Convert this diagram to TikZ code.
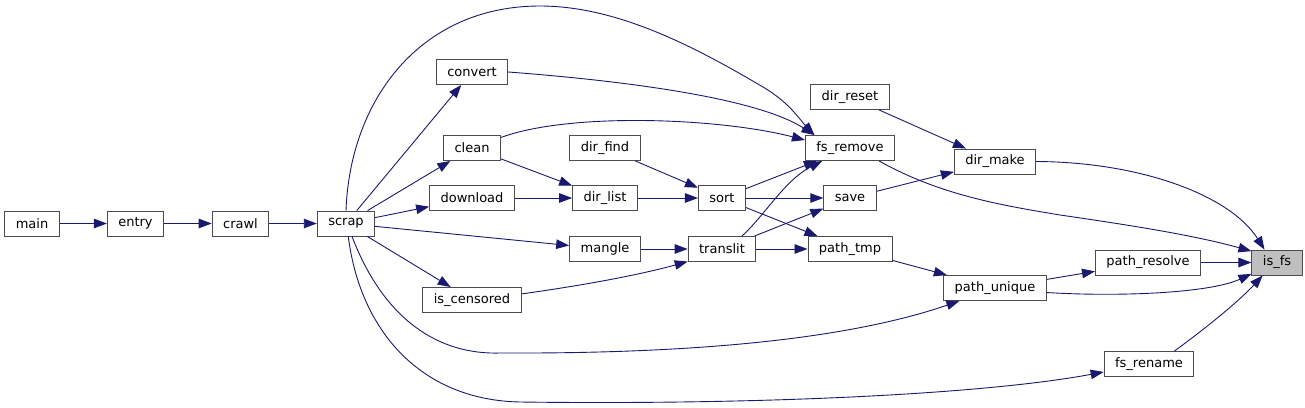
\documentclass[tikz,border=0pt]{standalone}
\usepackage{fontspec}
\setmainfont{DejaVu Sans}
\usetikzlibrary{arrows.meta}
\definecolor{callblue}{HTML}{191970}

\begin{document}
\begin{tikzpicture}[x=1pt, y=1pt,
  fn/.style={draw=black!70, line width=0.9pt, fill=white, inner xsep=11pt, inner ysep=0pt,
    minimum height=25pt, font=\fontsize{13}{15}\selectfont},
  here/.style={fn, fill=black!25},
  call/.style={draw=callblue, line width=0.9pt, -{Triangle[length=13pt, width=9.5pt]}}]

\useasboundingbox (0,0) rectangle (1305,-407);

\node[fn] (main) at (32,-223.5) {main};
\node[fn] (entry) at (135.5,-223.5) {entry};
\node[fn] (crawl) at (240.5,-223.5) {crawl};
\node[fn] (scrap) at (346,-223.5) {scrap};
\node[fn] (convert) at (472,-72) {convert};
\node[fn] (clean) at (472,-148) {clean};
\node[fn] (download) at (472,-198) {download};
\node[fn] (is-censored) at (472,-300) {is\_censored};
\node[fn] (dir-find) at (605,-148) {dir\_find};
\node[fn] (dir-list) at (605,-198) {dir\_list};
\node[fn] (mangle) at (605,-249) {mangle};
\node[fn] (sort) at (722,-198) {sort};
\node[fn] (translit) at (722,-249) {translit};
\node[fn] (dir-reset) at (850,-97) {dir\_reset};
\node[fn] (fs-remove) at (850,-148) {fs\_remove};
\node[fn] (save) at (850,-198) {save};
\node[fn] (path-tmp) at (850,-249) {path\_tmp};
\node[fn] (dir-make) at (995,-161.5) {dir\_make};
\node[fn] (path-unique) at (995,-288) {path\_unique};
\node[fn] (path-resolve) at (1148,-262.5) {path\_resolve};
\node[fn] (fs-rename) at (1149,-364) {fs\_rename};
\node[here] (is-fs) at (1277,-262.5) {is\_fs};

\draw[call] (main) -- (entry);
\draw[call] (entry) -- (crawl);
\draw[call] (crawl) -- (scrap);
\draw[call] (scrap) -- (convert);
\draw[call] (scrap) -- (clean);
\draw[call] (scrap) -- (download);
\draw[call] (scrap) -- (mangle);
\draw[call] (scrap) -- (is-censored);
\draw[call] (clean) -- (dir-list);
\draw[call] (download) -- (dir-list);
\draw[call] (dir-find) -- (sort);
\draw[call] (dir-list) -- (sort);
\draw[call] (mangle) -- (translit);
\draw[call] (sort) -- (fs-remove);
\draw[call] (sort) -- (save);
\draw[call] (sort) -- (path-tmp);
\draw[call] (translit) -- (save);
\draw[call] (translit) -- (path-tmp);
\draw[call] (dir-reset) -- (dir-make);
\draw[call] (save) -- (dir-make);
\draw[call] (path-tmp) -- (path-unique);
\draw[call] (path-unique) -- (path-resolve);
\draw[call] (path-resolve) -- (is-fs);

\draw[call] (scrap.north) .. controls (350,-100) and (420,-6) .. (540,-6)
  .. controls (620,-6) and (700,-50) .. (763,-87)
  .. controls (790,-103) and (800,-120) .. (fs-remove.160);
\draw[call] (convert.east) .. controls (640,-82) and (760,-100) .. (fs-remove.160);
\draw[call] (clean.20) .. controls (570,-112) and (720,-118) .. (fs-remove.170);
\draw[call] (scrap.-65) .. controls (380,-310) and (430,-355) .. (500,-353)
  .. controls (720,-354) and (860,-335) .. (path-unique.200);
\draw[call] (scrap.-80) .. controls (360,-330) and (420,-400) .. (520,-402)
  .. controls (750,-405) and (980,-395) .. (fs-rename.190);
\draw[call] (is-censored.7) .. controls (600,-283) and (650,-272) .. (translit.200);
\draw[call] (translit.33) .. controls (765,-215) and (785,-180) .. (fs-remove.205);
\draw[call] (fs-remove.-24) .. controls (940,-195) and (1000,-205) .. (1060,-215)
  .. controls (1150,-228) and (1200,-237) .. (is-fs.156);
\draw[call] (dir-make.east) .. controls (1140,-162) and (1230,-195) .. (is-fs.134);
\draw[call] (path-unique.-5) .. controls (1120,-297) and (1210,-293) .. (is-fs.204);
\draw[call] (fs-rename.27) .. controls (1210,-325) and (1240,-300) .. (is-fs.222);

\end{tikzpicture}
\end{document}
